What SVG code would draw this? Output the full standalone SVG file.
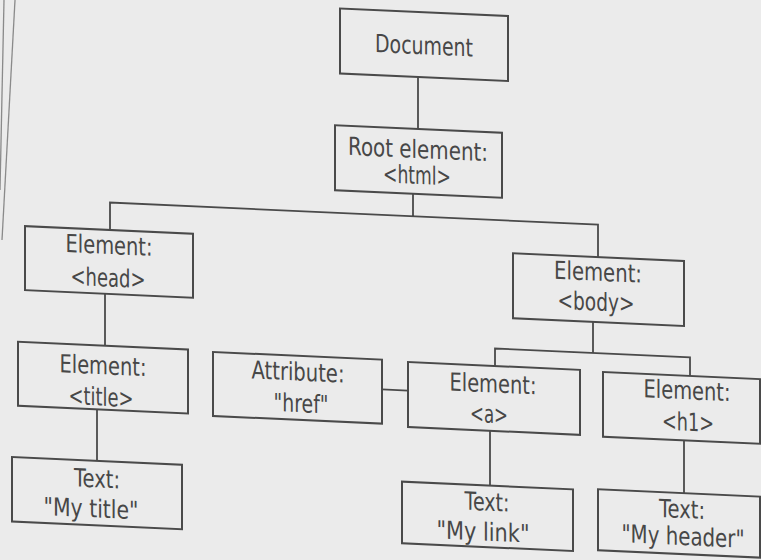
<svg xmlns="http://www.w3.org/2000/svg" width="761" height="560" viewBox="0 0 761 560">
<style>
.box{fill:none;stroke:#4a4a4a;stroke-width:2}
.con{fill:none;stroke:#4a4a4a;stroke-width:1.8}
text{font-family:"DejaVu Sans","Liberation Sans",sans-serif;font-size:25px;fill:#474747;text-anchor:middle}
</style>
<rect width="761" height="560" fill="#ebebeb"/>
<g id="margin" stroke="#8a8a8a" stroke-width="1.3" fill="none">
<line x1="4" y1="0" x2="0" y2="190"/>
<line x1="15" y1="0" x2="2" y2="240"/>
</g>
<g transform="skewY(2.6)">
<g id="connectors">
<path class="con" d="M418,58 V110"/>
<path class="con" d="M413,175 V197.5 M110,225 V197.5 H598 V230"/>
<path class="con" d="M105,289 V341"/>
<path class="con" d="M97,405 V456.5"/>
<path class="con" d="M593,295 V326 M495,343.5 V326 H690 V344.6"/>
<path class="con" d="M382,372 H408"/>
<path class="con" d="M490,408.5 V463.4"/>
<path class="con" d="M684,409.3 V462.1"/>
</g>
<g id="document">
<rect class="box" x="340" y="-7" width="168" height="65"/>
<text x="424" y="35" textLength="98" lengthAdjust="spacingAndGlyphs">Document</text>
</g>
<g id="root">
<rect class="box" x="335" y="110" width="167" height="65"/>
<text x="418" y="139" textLength="140" lengthAdjust="spacingAndGlyphs">Root element:</text>
<text x="417" y="165" textLength="68" lengthAdjust="spacingAndGlyphs">&lt;html&gt;</text>
</g>
<g id="head">
<rect class="box" x="25" y="225" width="168" height="64"/>
<text x="109" y="249" textLength="87" lengthAdjust="spacingAndGlyphs">Element:</text>
<text x="108" y="281.5" textLength="75" lengthAdjust="spacingAndGlyphs">&lt;head&gt;</text>
</g>
<g id="body">
<rect class="box" x="513" y="230" width="171" height="65"/>
<text x="598" y="253.5" textLength="88" lengthAdjust="spacingAndGlyphs">Element:</text>
<text x="596" y="283.5" textLength="77" lengthAdjust="spacingAndGlyphs">&lt;body&gt;</text>
</g>
<g id="title">
<rect class="box" x="18" y="341" width="170" height="64"/>
<text x="103" y="369.5" textLength="87" lengthAdjust="spacingAndGlyphs">Element:</text>
<text x="101" y="401" textLength="65" lengthAdjust="spacingAndGlyphs">&lt;title&gt;</text>
</g>
<g id="href">
<rect class="box" x="213" y="342.3" width="169" height="64"/>
<text x="298" y="367" textLength="93" lengthAdjust="spacingAndGlyphs">Attribute:</text>
<text x="301" y="398.5" textLength="55" lengthAdjust="spacingAndGlyphs">"href"</text>
</g>
<g id="a">
<rect class="box" x="408" y="343.5" width="172" height="65"/>
<text x="493" y="370" textLength="87" lengthAdjust="spacingAndGlyphs">Element:</text>
<text x="489" y="400.5" textLength="38" lengthAdjust="spacingAndGlyphs">&lt;a&gt;</text>
</g>
<g id="h1">
<rect class="box" x="603" y="344.6" width="157" height="64.7"/>
<text x="687" y="368" textLength="87" lengthAdjust="spacingAndGlyphs">Element:</text>
<text x="688" y="399.5" textLength="52" lengthAdjust="spacingAndGlyphs">&lt;h1&gt;</text>
</g>
<g id="mytitle">
<rect class="box" x="12" y="456.5" width="170" height="64.5"/>
<text x="97" y="483" textLength="46" lengthAdjust="spacingAndGlyphs">Text:</text>
<text x="91" y="513" textLength="95" lengthAdjust="spacingAndGlyphs">"My title"</text>
</g>
<g id="mylink">
<rect class="box" x="402" y="463.4" width="171" height="61.6"/>
<text x="487" y="488.5" textLength="45" lengthAdjust="spacingAndGlyphs">Text:</text>
<text x="483" y="518.5" textLength="93" lengthAdjust="spacingAndGlyphs">"My link"</text>
</g>
<g id="myheader">
<rect class="box" x="598" y="462.1" width="162" height="61"/>
<text x="682" y="487" textLength="46" lengthAdjust="spacingAndGlyphs">Text:</text>
<text x="683" y="514" textLength="123" lengthAdjust="spacingAndGlyphs">"My header"</text>
</g>
</g>
</svg>
